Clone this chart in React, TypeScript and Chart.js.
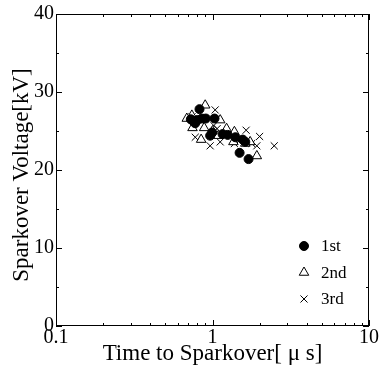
import React, { useEffect, useRef } from "react";
import { Chart, registerables } from "chart.js";

Chart.register(...registerables);

const seriesLabels = ["1st", "2nd", "3rd"];

const firstT = [0.826, 0.727, 0.775, 0.855, 0.906, 1.03, 0.995, 0.966, 1.16, 1.25, 1.4, 1.56, 1.62, 1.49, 1.7, 0.75, 0.8];
const firstV = [27.8, 26.5, 26.0, 26.6, 26.6, 26.6, 24.8, 24.4, 24.6, 24.5, 24.2, 23.9, 23.6, 22.2, 21.4, 26.3, 26.4];

const secondT = [0.685, 0.738, 0.898, 0.745, 0.885, 0.846, 1.12, 1.23, 1.38, 1.36, 1.74, 1.92, 1.09, 1.62, 1.0];
const secondV = [26.6, 27.0, 28.3, 25.4, 25.4, 23.9, 26.4, 25.3, 24.9, 23.6, 23.6, 21.8, 24.4, 23.4, 25.0];

const thirdT = [0.776, 0.966, 1.12, 1.02, 1.07, 1.38, 1.64, 1.92, 2.0, 2.48, 1.04, 1.78, 1.49, 0.74];
const thirdV = [24.2, 23.1, 23.6, 25.7, 25.3, 23.4, 25.1, 23.1, 24.3, 23.1, 27.7, 23.4, 23.8, 26.8];

const xTickLabels = [0.1, 1, 10];
const yTickLabels = [0, 10, 20, 30, 40];

const yTitle = "Sparkover Voltage[kV]";
const xTitle = "Time to Sparkover[ μ s]";

const FONT = "'Liberation Serif', 'Times New Roman', serif";

const toPts = (xs: number[], ys: number[]) => xs.map((x, i) => ({ x, y: ys[i] }));

function drawMarker(ctx: CanvasRenderingContext2D, style: string, x: number, y: number, r: number, fill: string) {
  ctx.beginPath();
  if (style === "circle") {
    ctx.arc(x, y, r, 0, Math.PI * 2);
    ctx.fillStyle = fill;
    ctx.fill();
    ctx.stroke();
  } else if (style === "triangle") {
    const h = r * 1.5;
    const s = r * Math.sqrt(3);
    ctx.moveTo(x, y - r);
    ctx.lineTo(x + s / 2, y - r + h);
    ctx.lineTo(x - s / 2, y - r + h);
    ctx.closePath();
    ctx.fillStyle = fill;
    ctx.fill();
    ctx.stroke();
  } else {
    const d = r * Math.SQRT1_2;
    ctx.moveTo(x - d, y - d);
    ctx.lineTo(x + d, y + d);
    ctx.moveTo(x + d, y - d);
    ctx.lineTo(x - d, y + d);
    ctx.stroke();
  }
}

const framePlugin = {
  id: "frameTicks",
  afterDatasetsDraw(chart: any) {
    const { ctx, chartArea: a, scales } = chart;
    const xs = scales.x;
    const ys = scales.y;
    ctx.save();
    ctx.strokeStyle = "#000";
    ctx.lineWidth = 1;
    ctx.strokeRect(a.left + 0.5, a.top + 0.5, a.right - a.left - 1, a.bottom - a.top - 1);
    ctx.beginPath();
    for (let v = 0; v <= 40; v += 5) {
      const y = Math.round(ys.getPixelForValue(v)) + 0.5;
      const len = v % 10 === 0 ? 6 : 3;
      ctx.moveTo(a.left, y);
      ctx.lineTo(a.left + len, y);
      ctx.moveTo(a.right, y);
      ctx.lineTo(a.right - len, y);
    }
    for (let d = 0.1; d < 10.01; d *= 10) {
      for (let k = 1; k <= 9; k++) {
        const v = d * k;
        if (v > 10.001) break;
        const x = Math.round(xs.getPixelForValue(v)) + 0.5;
        const len = k === 1 ? 6 : 3;
        ctx.moveTo(x, a.bottom);
        ctx.lineTo(x, a.bottom - len);
        ctx.moveTo(x, a.top);
        ctx.lineTo(x, a.top + len);
      }
    }
    ctx.stroke();

    // y axis title
    ctx.save();
    ctx.translate(22, (a.top + a.bottom) / 2 + 5);
    ctx.rotate(-Math.PI / 2);
    ctx.fillStyle = "#000";
    ctx.font = `23px ${FONT}`;
    ctx.textAlign = "center";
    ctx.textBaseline = "middle";
    ctx.fillText(yTitle, 0, 0);
    ctx.restore();

    const lx = 304;
    const ly0 = 246;
    const gap = 26.5;
    chart.data.datasets.forEach((ds: any, i: number) => {
      const cy = ly0 + i * gap;
      ctx.save();
      ctx.lineWidth = 1;
      ctx.strokeStyle = "#000";
      drawMarker(ctx, ds.pointStyle, lx, cy, ds.pointRadius, ds.backgroundColor);
      ctx.restore();
      ctx.fillStyle = "#000";
      ctx.font = `17px ${FONT}`;
      ctx.textAlign = "left";
      ctx.textBaseline = "middle";
      ctx.fillText(ds.label, 321, cy + 1);
    });
    ctx.restore();
  },
};

export default function App() {
  const ref = useRef<HTMLCanvasElement | null>(null);
  useEffect(() => {
    document.body.style.margin = "0";
    const canvas = ref.current!;
    const chart = new Chart(canvas, {
      type: "scatter",
      data: {
        datasets: [
          {
            label: seriesLabels[0],
            data: toPts(firstT, firstV),
            pointStyle: "circle",
            pointRadius: 4.5,
            backgroundColor: "#000",
            borderColor: "#000",
            borderWidth: 1,
          },
          {
            label: seriesLabels[1],
            data: toPts(secondT, secondV),
            pointStyle: "triangle",
            pointRadius: 5.5,
            backgroundColor: "#fff",
            borderColor: "#000",
            borderWidth: 1,
          },
          {
            label: seriesLabels[2],
            data: toPts(thirdT, thirdV),
            pointStyle: "crossRot",
            pointRadius: 5,
            backgroundColor: "#000",
            borderColor: "#000",
            borderWidth: 1,
          },
        ],
      },
      options: {
        responsive: false,
        animation: false,
        events: [],
        layout: { padding: { top: 13, right: 10, left: 8, bottom: 12 } },
        plugins: { legend: { display: false }, tooltip: { enabled: false } },
        scales: {
          x: {
            type: "logarithmic",
            min: 0.1,
            max: 10,
            afterBuildTicks: (s: any) => {
              s.ticks = xTickLabels.map((v) => ({ value: v }));
            },
            afterFit: (s: any) => {
              s.height = 42;
            },
            grid: { display: false, drawTicks: false },
            border: { display: false },
            ticks: {
              color: "#000",
              font: { family: FONT, size: 20 },
              padding: 0,
              maxRotation: 0,
              callback: (v: any) => String(v),
            },
            title: {
              display: true,
              text: xTitle,
              color: "#000",
              font: { family: FONT, size: 23 },
              padding: { top: 0, bottom: 0 },
            },
          },
          y: {
            min: 0,
            max: 40,
            afterBuildTicks: (s: any) => {
              s.ticks = yTickLabels.map((v) => ({ value: v }));
            },
            afterFit: (s: any) => {
              s.width = 48;
            },
            grid: { display: false, drawTicks: false },
            border: { display: false },
            ticks: {
              color: "#000",
              font: { family: FONT, size: 20 },
              padding: 2,
            },
            title: { display: false },
          },
        },
      },
      plugins: [framePlugin],
    } as any);
    return () => chart.destroy();
  }, []);
  return <canvas ref={ref} width={379} height={380} style={{ display: "block" }} />;
}
